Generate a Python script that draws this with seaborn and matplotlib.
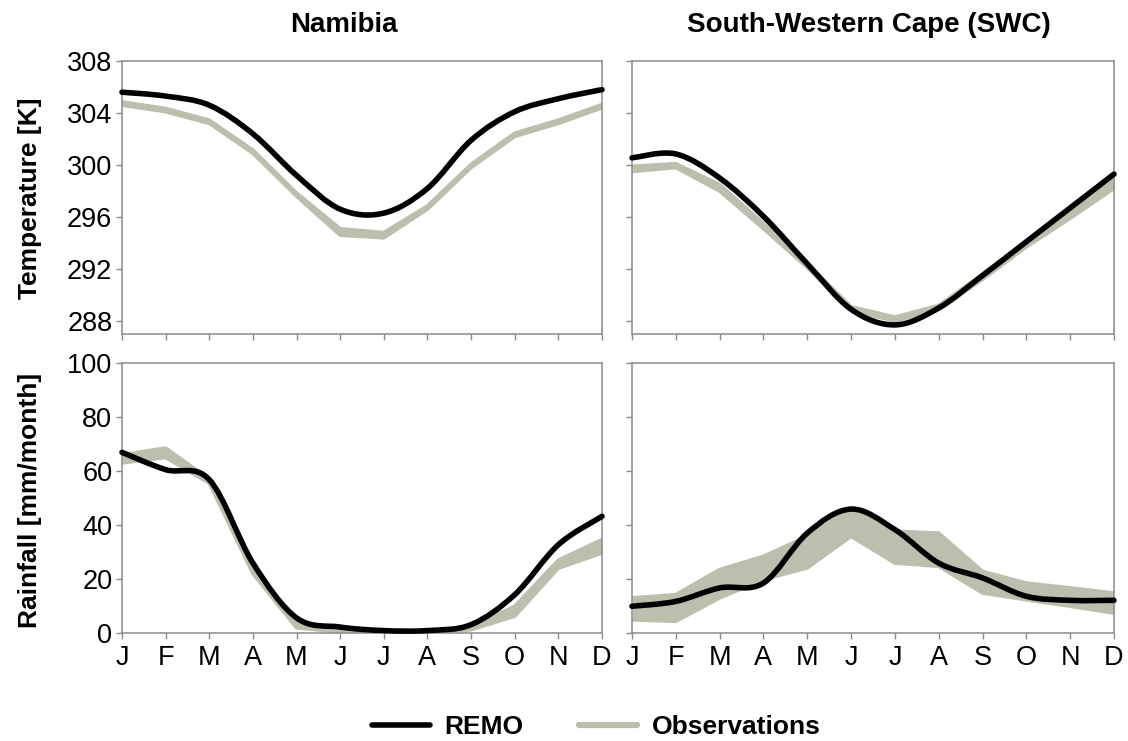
import numpy as np
import matplotlib
matplotlib.use("Agg")
import matplotlib.pyplot as plt
from matplotlib.path import Path
from matplotlib.patches import PathPatch
from matplotlib.lines import Line2D
import seaborn as sns

# ---- data -------------------------------------------------------------
months = ["J", "F", "M", "A", "M", "J", "J", "A", "S", "O", "N", "D"]
regions = ["Namibia", "South-Western Cape (SWC)"]

# Near-surface temperature [K]
nam_temp_remo = [305.6, 305.3, 304.6, 302.4, 299.2, 296.6, 296.3, 298.2, 301.9, 304.1, 305.1, 305.8]
nam_temp_obs_lo = [304.6, 304.1, 303.2, 300.9, 297.6, 294.6, 294.4, 296.6, 299.8, 302.2, 303.2, 304.4]
nam_temp_obs_hi = [304.85, 304.35, 303.45, 301.15, 297.85, 295.1, 294.8, 296.85, 300.05, 302.45, 303.45, 304.65]

swc_temp_remo = [300.55, 300.85, 299.0, 296.05, 292.4, 288.9, 287.7, 289.0, 291.5, 294.1, 296.7, 299.3]
swc_temp_obs_lo = [299.5, 299.8, 298.0, 295.1, 292.1, 288.8, 288.0, 288.9, 291.2, 293.7, 295.9, 298.2]
swc_temp_obs_hi = [299.9, 300.1, 298.5, 295.5, 292.4, 289.1, 288.3, 289.2, 291.6, 294.1, 296.4, 298.9]

# Rainfall [mm/month]
nam_rain_remo = [66.9, 60.5, 56.8, 25.9, 5.6, 2.2, 0.9, 0.9, 3.1, 14.2, 32.7, 43.2]
nam_rain_obs_lo = [63.0, 65.0, 55.5, 22.0, 1.9, 0.4, 0.3, 0.3, 1.2, 6.2, 24.0, 29.6]
nam_rain_obs_hi = [66.0, 68.5, 57.0, 24.7, 3.7, 1.0, 0.8, 0.8, 2.2, 9.9, 27.0, 34.6]

swc_rain_remo = [9.9, 11.7, 16.7, 18.5, 37.0, 45.9, 38.3, 25.9, 20.4, 13.6, 12.1, 12.1]
swc_rain_obs_lo = [4.9, 4.3, 13.0, 19.8, 24.1, 35.8, 25.9, 24.7, 14.8, 12.3, 9.9, 7.4]
swc_rain_obs_hi = [13.0, 14.2, 23.5, 28.4, 35.8, 46.0, 37.7, 37.0, 22.8, 18.5, 16.7, 14.8]

temp_ticks = [288, 292, 296, 300, 304, 308]
rain_ticks = [0, 20, 40, 60, 80, 100]

# ---- style ------------------------------------------------------------
sns.set_theme(style="ticks")
plt.rcParams["font.family"] = ["Liberation Sans", "DejaVu Sans"]
plt.rcParams["text.color"] = "black"
plt.rcParams["axes.labelcolor"] = "black"
plt.rcParams["xtick.labelcolor"] = "black"
plt.rcParams["ytick.labelcolor"] = "black"

REMO_COLOR = "black"
OBS_COLOR = "#bdbfae"
SPINE_COLOR = "#8a8a8a"

W, H = 1128, 741
fig = plt.figure(figsize=(W / 100, H / 100), dpi=100)


def frac_axes(left, top, right, bottom):
    return fig.add_axes([left / W, 1 - bottom / H, (right - left) / W, (bottom - top) / H])


def smooth_path(xs, ys):
    """Bezier path through the points (Catmull-Rom style smoothed line)."""
    n = len(xs)
    verts = [(xs[0], ys[0])]
    codes = [Path.MOVETO]
    for i in range(n - 1):
        a = i - 1 if i > 0 else i
        d = i + 2 if i + 2 < n else i + 1
        c1 = (xs[i] + (xs[i + 1] - xs[a]) / 6, ys[i] + (ys[i + 1] - ys[a]) / 6)
        c2 = (xs[i + 1] - (xs[d] - xs[i]) / 6, ys[i + 1] - (ys[d] - ys[i]) / 6)
        verts += [c1, c2, (xs[i + 1], ys[i + 1])]
        codes += [Path.CURVE4] * 3
    return Path(verts, codes)


x = np.arange(len(months))

panels = [
    # (left, top, right, bottom), remo, obs_lo, obs_hi, ylim, yticks, show y labels, show x labels
    ((122, 61, 602, 334), nam_temp_remo, nam_temp_obs_lo, nam_temp_obs_hi, (287, 308), temp_ticks, True, False),
    ((632, 61, 1114, 334), swc_temp_remo, swc_temp_obs_lo, swc_temp_obs_hi, (287, 308), temp_ticks, False, False),
    ((122, 363, 602, 633), nam_rain_remo, nam_rain_obs_lo, nam_rain_obs_hi, (0, 100), rain_ticks, True, True),
    ((632, 363, 1114, 633), swc_rain_remo, swc_rain_obs_lo, swc_rain_obs_hi, (0, 100), rain_ticks, False, True),
]

for box, remo, lo, hi, ylim, yticks, ylab, xlab in panels:
    ax = frac_axes(*box)
    # observation range as a band with rounded edges
    ax.fill_between(x, lo, hi, color=OBS_COLOR, linewidth=0, zorder=2)
    sns.lineplot(x=x, y=lo, ax=ax, color=OBS_COLOR, linewidth=2.6, zorder=2,
                 solid_capstyle="round", solid_joinstyle="round")
    sns.lineplot(x=x, y=hi, ax=ax, color=OBS_COLOR, linewidth=2.6, zorder=2,
                 solid_capstyle="round", solid_joinstyle="round")
    # REMO simulation as a smoothed line
    ax.add_patch(PathPatch(smooth_path(x.astype(float), np.asarray(remo, float)),
                           facecolor="none", edgecolor=REMO_COLOR, linewidth=4.0,
                           capstyle="round", joinstyle="round", zorder=3, clip_on=False))

    ax.set_xlim(0, len(months) - 1)
    ax.set_ylim(*ylim)
    ax.set_yticks(yticks)
    ax.set_xticks(x)
    ax.set_xticklabels(months if xlab else [])
    if not ylab:
        ax.set_yticklabels([])
    ax.set_xlabel("")
    ax.set_ylabel("")
    for sp in ax.spines.values():
        sp.set_visible(True)
        sp.set_color(SPINE_COLOR)
        sp.set_linewidth(1.1)
    ax.tick_params(axis="both", direction="out", length=4.5, width=1.0, color=SPINE_COLOR,
                   labelsize=19.5, labelcolor="black", pad=2.5)
    ax.tick_params(axis="x", pad=4)
    ax.set_facecolor("white")

# column titles
fig.text(344 / W, 1 - 25 / H, regions[0], ha="center", va="center", fontsize=20,
         fontweight="bold", color="black")
fig.text(869 / W, 1 - 25 / H, regions[1], ha="center", va="center", fontsize=20,
         fontweight="bold", color="black")

# row labels
fig.text(30 / W, 1 - 198 / H, "Temperature [K]", rotation=90, ha="center", va="center",
         fontsize=19, fontweight="bold", color="black")
fig.text(30 / W, 1 - 500 / H, "Rainfall [mm/month]", rotation=90, ha="center", va="center",
         fontsize=19, fontweight="bold", color="black")

handles = [
    Line2D([], [], color=REMO_COLOR, linewidth=4.0, solid_capstyle="round"),
    Line2D([], [], color=OBS_COLOR, linewidth=4.5, solid_capstyle="round"),
]
leg = fig.legend(handles, ["REMO", "Observations"], loc="center",
                 bbox_to_anchor=(596 / W, 1 - 727 / H), ncol=2, frameon=False,
                 prop={"size": 19, "weight": "bold"}, handlelength=2.2, handletextpad=0.55,
                 columnspacing=2.1)
for t in leg.get_texts():
    t.set_color("black")

fig.savefig("out.png", dpi=100, facecolor="white")
